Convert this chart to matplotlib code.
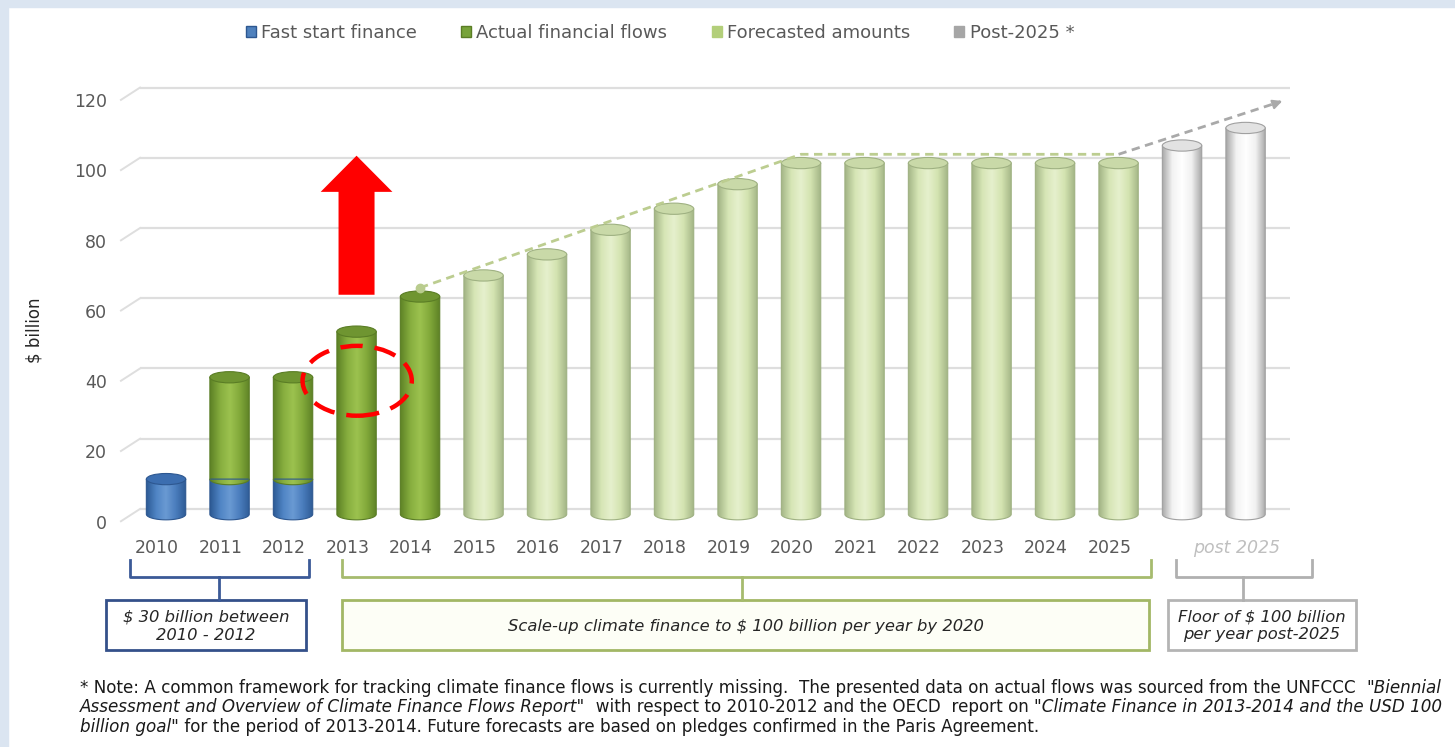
import numpy as np
import matplotlib
matplotlib.use("Agg")
import matplotlib.pyplot as plt
from matplotlib.patches import Polygon, Ellipse, Rectangle, FancyArrow, Patch
from matplotlib.colors import LinearSegmentedColormap
from matplotlib.offsetbox import TextArea, HPacker, AnchoredOffsetbox

# data ($ billion)
years = list(range(2010, 2026))
fast_start_years = [2010, 2011, 2012]
fast_start = [10, 10, 10]
actual_years = [2011, 2012, 2013, 2014]
actual_flows = [29, 29, 52, 62]  # stacked on fast start for 2011-2012
forecast_years = [2015, 2016, 2017, 2018, 2019, 2020, 2021, 2022, 2023, 2024, 2025]
forecast = [68, 74, 81, 87, 94, 100, 100, 100, 100, 100, 100]
post_2025 = [105, 110]
trend_years = [2014, 2020, 2025]
trend_vals = [63, 101, 101]
post_trend_vals = [101, 116]
y_ticks = [0, 20, 40, 60, 80, 100, 120]

W, H = 1455, 747
fig = plt.figure(figsize=(W / 100, H / 100), dpi=100)


def fx(px):
    return px / W


def fy(py):
    return 1 - py / H


# light blue frame strips
fig.patches.append(Rectangle((0, 0), fx(8), 1, transform=fig.transFigure,
                             color="#dbe5f1", zorder=0))
fig.patches.append(Rectangle((0, fy(7)), 1, 7 / H, transform=fig.transFigure,
                             color="#dbe5f1", zorder=0))

ax = fig.add_axes([fx(140), fy(523), fx(1290) - fx(140), (523 - 63) / H])
XMIN, XMAX = -0.41, 17.7
ax.axis("off")

# gridlines with a little 3D slant on the left
for v in y_ticks:
    ax.plot([XMIN, XMAX], [v, v], color="#dedede", lw=1.6, zorder=0)
    ax.plot([XMIN - 0.3, XMIN], [v - 3.5, v], color="#dedede", lw=1.4,
            zorder=0, clip_on=False)
    ax.annotate(str(v), xy=(0, v), xycoords=("axes fraction", "data"),
                xytext=(-24, -10.5), textcoords="offset points",
                ha="right", va="center", fontsize=12.5, color="#595959")

EH = 3.2
BW = 0.62
BASE = -1.5  # front edge of the 3D floor

styles = {
    "blue": (["#2c5a94", "#4f84c4", "#6a9ad3", "#4a7dbd", "#2f5c96"], "#3c6eb0", "#2d5790"),
    "green": (["#5e8226", "#86ad3e", "#9cc24f", "#82a93a", "#5e8226"], "#6f9531", "#5a7d25"),
    "light": (["#a3b586", "#d6e5b5", "#e6f0cd", "#d3e3b0", "#a3b586"], "#c9d9a8", "#9fb182"),
    "white": (["#a8a8a8", "#f2f2f2", "#ffffff", "#f0f0f0", "#a8a8a8"], "#e2e2e2", "#a0a0a0"),
}
grad = np.linspace(0, 1, 64).reshape(1, -1)


def cylinder(x, y0, y1, style, top=True):
    y0, y1 = y0 + BASE, y1 + BASE
    cols, top_col, edge = styles[style]
    cmap = LinearSegmentedColormap.from_list(style, cols)
    t = np.linspace(np.pi, 2 * np.pi, 40)
    verts = [(x - BW / 2, y1)]
    verts += list(zip(x + BW / 2 * np.cos(t), y0 + EH / 2 * np.sin(t)))
    verts += [(x + BW / 2, y1)]
    body = Polygon(verts, closed=True, facecolor="none", edgecolor=edge,
                   lw=0.8, zorder=3)
    ax.add_patch(body)
    im = ax.imshow(grad, extent=(x - BW / 2, x + BW / 2, y0 - EH, y1),
                   aspect="auto", cmap=cmap, origin="lower", zorder=2)
    im.set_clip_path(body)
    if top:
        ax.add_patch(Ellipse((x, y1), BW, EH, facecolor=top_col,
                             edgecolor=edge, lw=0.8, zorder=4))


for yr, v in zip(fast_start_years, fast_start):
    cylinder(yr - 2010, 0, v, "blue", top=(yr == 2010))
for yr, v in zip(actual_years, actual_flows):
    base = fast_start[fast_start_years.index(yr)] if yr in fast_start_years else 0
    cylinder(yr - 2010, base, base + v, "green")
for yr, v in zip(forecast_years, forecast):
    cylinder(yr - 2010, 0, v, "light")
for i, v in enumerate(post_2025):
    cylinder(16 + i, 0, v, "white")

# trend lines
tx = [y - 2010 for y in trend_years]
ax.plot(tx, trend_vals, color="#bccd90", lw=2, ls=(0, (3, 2)), zorder=5)
ax.plot(tx[0], trend_vals[0], "o", color="#b9cc8e", ms=6, zorder=5)
ax.plot([15, 17.55], post_trend_vals, color="#a9a9a9", lw=2, ls=(0, (3, 2)), zorder=5)
ax.annotate("", xy=(17.62, post_trend_vals[1] + 0.45),
            xytext=(17.4, post_trend_vals[1] - 1.0),
            arrowprops=dict(arrowstyle="-|>", color="#a9a9a9", lw=1.5,
                            mutation_scale=14), zorder=5)

# red highlight
ax.add_patch(FancyArrow(3, 61, 0, 39.6, width=0.567, head_width=1.13,
                        head_length=10.3, length_includes_head=True,
                        color="#ff0000", lw=0, zorder=6))
ax.add_patch(Ellipse((3.01, 36.5), 1.72, 19.9, facecolor="none",
                     edgecolor="#ff0000", lw=3.2, ls=(0, (5, 2.7)), zorder=6))

# x labels
for yr in years:
    ax.annotate(str(yr), xy=(yr - 2010, 0), xycoords=("data", "axes fraction"),
                xytext=(-6.5, -18), textcoords="offset points",
                ha="center", va="center", fontsize=12.5, color="#595959")
ax.annotate("post 2025", xy=(17, 0), xycoords=("data", "axes fraction"),
            xytext=(-6.5, -18), textcoords="offset points", ha="center",
            va="center", fontsize=12.5, color="#bfbfbf", style="italic")

ax.set_xlim(XMIN, XMAX)
ax.set_ylim(-4, 127)

fig.text(fx(35), fy(330), "$ billion", rotation=90, ha="center", va="center",
         fontsize=12, color="#262626")

# legend
handles = [Patch(facecolor="#4f81bd", edgecolor="#2d5790"),
           Patch(facecolor="#77a33a", edgecolor="#5a7d25"),
           Patch(facecolor="#b3cf7a", edgecolor="#b3cf7a"),
           Patch(facecolor="#a6a6a6", edgecolor="#a6a6a6")]
labels = ["Fast start finance", "Actual financial flows", "Forecasted amounts",
          "Post-2025 *"]
fig.legend(handles, labels, loc="center", bbox_to_anchor=(fx(660), fy(33)),
           ncol=4, frameon=False, handlelength=0.55, handleheight=0.55,
           handletextpad=0.3, columnspacing=2.45, fontsize=13,
           labelcolor="#595959")


# brackets and boxes below axis
def bracket(x0, x1, xm, color):
    xs = [fx(x0), fx(x0), fx(x1), fx(x1)]
    ys = [fy(560), fy(577), fy(577), fy(560)]
    fig.add_artist(plt.Line2D(xs, ys, color=color, lw=2,
                              solid_joinstyle="round", transform=fig.transFigure))
    fig.add_artist(plt.Line2D([fx(xm), fx(xm)], [fy(577), fy(600)], color=color,
                              lw=2, transform=fig.transFigure))


def box(x0, x1, edge, face, text):
    fig.patches.append(Rectangle((fx(x0), fy(650)), fx(x1) - fx(x0), 50 / H,
                                 transform=fig.transFigure, facecolor=face,
                                 edgecolor=edge, lw=2))
    fig.text(fx((x0 + x1) / 2), fy(626), text, ha="center", va="center",
             fontsize=11.8, style="italic", color="#262626", linespacing=1.25)


bracket(130, 309, 219, "#3b5a97")
box(106, 306, "#34508a", "white", "$ 30 billion between\n2010 - 2012")
bracket(342, 1151, 742, "#a6bb6e")
box(342, 1149, "#a2b765", "#fdfef6", "Scale-up climate finance to $ 100 billion per year by 2020")
bracket(1176, 1312, 1243, "#b0b0b0")
box(1168, 1356, "#b4b4b4", "white", "Floor of $ 100 billion\nper year post-2025")

# note
note_lines = [
    [("* Note: A common framework for tracking climate finance flows is currently missing.  "
      "The presented data on actual flows was sourced from the UNFCCC  ", "normal"),
     ("\"Biennial", "italic")],
    [("Assessment and Overview of Climate Finance Flows Report\"", "italic"),
     ("  with respect to 2010-2012 and the OECD  report on ", "normal"),
     ("\"Climate Finance in 2013-2014 and the USD 100", "italic")],
    [("billion goal\"", "italic"),
     (" for the period of 2013-2014. Future forecasts are based on pledges confirmed "
      "in the Paris Agreement.", "normal")],
]
for line, py in zip(note_lines, [688, 707, 727]):
    parts = [TextArea(s, textprops=dict(fontsize=12.1, style=st, color="#1a1a1a"))
             for s, st in line]
    pack = HPacker(children=parts, pad=0, sep=0, align="baseline")
    anchored = AnchoredOffsetbox(loc="center left", child=pack, pad=0, borderpad=0,
                                 frameon=False, bbox_to_anchor=(fx(80), fy(py)),
                                 bbox_transform=fig.transFigure)
    fig.add_artist(anchored)

fig.savefig("out.png", dpi=100)
